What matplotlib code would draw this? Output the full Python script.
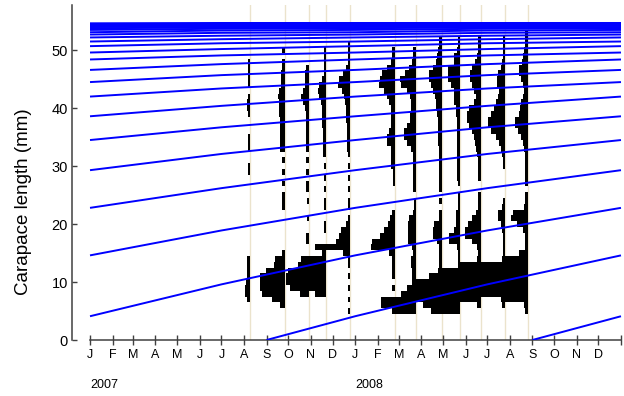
import numpy as np
import pandas as pd
import matplotlib
matplotlib.use('Agg')
import matplotlib.pyplot as plt
import matplotlib.dates as mdates
from matplotlib.transforms import blended_transform_factory

# growth curves: length (mm) in Jan 2007 and Jul 2007
# for each cohort, youngest first (cohorts are one year apart)
jan_len = [4.1, 14.6, 22.8, 29.3, 34.5, 38.6, 42.0, 44.5, 46.6, 48.4, 49.6,
           50.7, 51.5, 52.2, 52.7, 53.1, 53.5, 53.8, 54.0, 54.2, 54.3, 54.4,
           54.5, 54.6, 54.6, 54.7, 54.7]
jul_len = [9.6, 18.9, 26.2, 32.1, 36.7, 40.4, 43.4, 45.7, 47.6, 49.1, 50.2,
           51.2, 51.9, 52.5, 53.0, 53.4, 53.7, 53.9, 54.1, 54.2, 54.4, 54.5,
           54.5, 54.6, 54.7, 54.7, 54.7]
birth_month = -4  # youngest cohort starts at 0 mm around Sep 2006

# length-frequency samples (1 mm classes): {class mid (mm): frequency}
sample_dates = ['2007-08-09', '2007-09-26', '2007-10-29', '2007-11-22',
                '2007-12-25', '2008-02-25', '2008-03-25', '2008-04-29',
                '2008-05-25', '2008-06-22', '2008-07-26', '2008-08-26']

aug07 = {7: 2.5, 8: 4, 9: 4.5, 10: 3.5, 11: 2, 12: 2, 13: 2, 14: 2, 29: 1,
         30: 1, 33: 1, 34: 1, 35: 1, 39: 1.5, 40: 2, 41: 2, 42: 1.5, 44: 1,
         45: 1, 46: 1, 47: 1, 48: 1}
sep07 = {6: 4, 7: 12, 8: 22, 9: 24, 10: 24, 11: 24, 12: 18, 13: 10, 14: 9,
         15: 2, 23: 1.5, 24: 1.5, 25: 1.5, 27: 1.5, 29: 1.5, 31: 1.5, 33: 3.5,
         34: 4, 35: 4, 36: 4, 37: 4, 38: 4, 39: 5, 40: 5, 41: 5, 42: 6, 43: 5,
         44: 2.5, 45: 2.5, 46: 2.5, 47: 2, 48: 2, 50: 1.5}
oct07 = {8: 8, 9: 18, 10: 22, 11: 22, 12: 20, 13: 10, 14: 7, 17: 1.5,
         18: 1.5, 21: 1, 24: 1, 26: 1.5, 27: 1.5, 29: 1.5, 31: 1.5, 33: 1.5,
         34: 1.5, 35: 1.5, 36: 1.5, 37: 1.5, 38: 1.5, 39: 2, 40: 2.5, 41: 5,
         42: 7, 43: 5, 44: 3, 45: 3, 46: 2.5, 47: 2}
nov07 = {8: 10, 9: 17, 10: 27, 11: 27, 12: 27, 13: 17, 14: 17, 15: 3,
         16: 10, 19: 1, 20: 1, 23: 1.5, 24: 1, 26: 1.5, 28: 1.5, 30: 1.5,
         32: 2, 33: 2.5, 34: 2.5, 35: 2.5, 36: 2.5, 37: 3, 38: 3, 39: 3,
         40: 3.5, 41: 4, 42: 6, 43: 7, 44: 6, 45: 3, 46: 1.5, 47: 1.5,
         48: 1.5, 49: 1.5, 50: 1.5}
dec07 = {5: 1, 7: 1, 9: 1, 11: 1, 13: 1, 14: 1.5, 15: 6, 16: 24, 17: 13,
         18: 10, 19: 8, 20: 3, 21: 1.5, 23: 1.5, 24: 1.5, 26: 1.5, 28: 1.5,
         30: 1.5, 32: 1.5, 33: 2.5, 34: 2.5, 35: 2.5, 36: 2.5, 37: 2.5,
         38: 3, 39: 3, 40: 3, 41: 4, 42: 5, 43: 7, 44: 11, 45: 10, 46: 6,
         47: 3, 48: 1.5, 49: 1.5, 50: 1.5, 51: 1.5}
feb08 = {6: 13, 7: 13, 9: 2, 11: 2, 12: 2, 13: 2, 14: 2, 15: 5, 16: 23,
         17: 22, 18: 14, 19: 10, 20: 6, 21: 4, 22: 2, 27: 1.5, 28: 1.5,
         29: 1.5, 30: 3, 31: 3, 32: 3, 33: 3, 34: 7, 35: 7, 36: 5, 37: 3,
         38: 3, 39: 3, 40: 3, 41: 5, 42: 7, 43: 10, 44: 15, 45: 14, 46: 12,
         47: 7, 48: 3, 49: 2, 50: 2}
mar08 = {5: 23, 6: 23, 7: 22, 8: 14, 9: 8, 10: 3, 11: 3, 12: 3, 13: 4,
         14: 4, 15: 2, 16: 3, 17: 7, 18: 7, 19: 7, 20: 7, 21: 6, 22: 2,
         23: 1.5, 24: 1.5, 26: 2, 27: 2, 28: 2, 29: 2, 30: 2, 31: 2.5,
         32: 2.5, 33: 4, 34: 8, 35: 11, 36: 11, 37: 8, 38: 5, 39: 5, 40: 4,
         41: 4, 42: 5, 43: 8, 44: 14, 45: 15, 46: 10, 47: 6, 48: 3, 49: 2,
         50: 2}
apr08 = {5: 10, 6: 18, 7: 26, 8: 28, 9: 28, 10: 26, 11: 12, 12: 3, 13: 2,
         14: 2, 15: 2, 16: 2, 17: 4, 18: 8, 19: 8, 20: 7, 21: 2, 22: 2,
         24: 2, 26: 2, 27: 2, 28: 2, 29: 2, 30: 2, 31: 2, 32: 2, 33: 2,
         34: 3, 35: 3, 36: 3, 37: 3, 38: 3, 39: 4, 40: 5, 41: 5, 42: 6,
         43: 8, 44: 10, 45: 12, 46: 12, 47: 8, 48: 5, 49: 4, 50: 2.5, 51: 2,
         52: 2}
may08 = {5: 20, 6: 24, 7: 28, 8: 30, 9: 30, 10: 30, 11: 28, 12: 22, 13: 2,
         14: 2, 15: 2, 16: 3, 17: 11, 18: 11, 19: 6, 20: 4, 21: 4, 22: 4,
         23: 2, 24: 2, 25: 2, 27: 2, 28: 2.5, 29: 2.5, 30: 2.5, 31: 2.5,
         32: 2.5, 33: 2.5, 34: 2.5, 35: 2.5, 36: 2.5, 37: 2.5, 38: 2.5,
         39: 4, 40: 4, 41: 6, 42: 6, 43: 6, 44: 9, 45: 12, 46: 12, 47: 12,
         48: 6, 49: 6, 50: 3, 51: 2, 52: 2}
jun08 = {6: 3, 7: 22, 8: 26, 9: 26, 10: 26, 11: 26, 12: 24, 13: 22, 14: 3,
         15: 2, 16: 3, 17: 8, 18: 15, 19: 15, 20: 12, 21: 8, 22: 4, 23: 2,
         24: 2, 25: 2, 28: 2, 29: 2, 30: 2, 31: 2, 32: 3, 33: 4, 34: 5,
         35: 6, 36: 8, 37: 11, 38: 13, 39: 13, 40: 11, 41: 6, 42: 4, 43: 6,
         44: 8, 45: 10, 46: 10, 47: 8, 48: 5, 49: 3, 50: 2, 51: 2, 52: 2}
jul08 = {6: 3, 7: 4, 8: 26, 9: 28, 10: 28, 11: 28, 12: 28, 13: 26, 14: 3,
         15: 2, 16: 2, 17: 2, 18: 2, 19: 3, 20: 4, 21: 7, 22: 7, 23: 3,
         24: 2, 30: 2, 31: 2, 32: 3, 33: 4, 34: 6, 35: 9, 36: 14, 37: 17,
         38: 17, 39: 14, 40: 11, 41: 9, 42: 7, 43: 6, 44: 8, 45: 8, 46: 7,
         47: 4, 48: 3, 49: 2, 50: 2, 51: 2, 52: 2}
aug08 = {5: 2, 6: 3, 7: 22, 8: 22, 9: 24, 10: 24, 11: 24, 12: 24, 13: 24,
         14: 22, 15: 8, 16: 2, 17: 2, 18: 2, 19: 4, 20: 10, 21: 16, 22: 14,
         23: 3, 24: 2, 25: 2, 27: 2, 28: 2, 29: 2, 30: 2, 31: 2, 32: 2,
         33: 3, 34: 4, 35: 6, 36: 9, 37: 12, 38: 12, 39: 8, 40: 7, 41: 6,
         42: 4, 43: 3, 44: 4, 45: 6, 46: 8, 47: 8, 48: 5, 49: 4, 50: 3,
         51: 2, 52: 2, 53: 2}
samples = [aug07, sep07, oct07, nov07, dec07, feb08, mar08, apr08, may08,
           jun08, jul08, aug08]

month_letters = list('JFMAMJJASOND') * 2

narrow = ['Liberation Sans Narrow', 'Liberation Sans', 'DejaVu Sans']
axis_col = '#404040'
days_per_count = 1.376   # bar length per unit of frequency
min_bar = 1.0            # days added so single counts stay visible

fig = plt.figure(figsize=(6.24, 3.96), dpi=100)
ax = fig.add_axes([72 / 624, 56 / 396, 550 / 624, 335 / 396])

t_start = mdates.date2num(pd.Timestamp('2007-01-01'))
t_end = mdates.date2num(pd.Timestamp('2009-01-01'))

# sample lines
for d in sample_dates:
    ax.axvline(mdates.date2num(pd.Timestamp(d)), color='#ebe3cc', lw=1.0,
               zorder=1)

# histograms, drawn to the left of each sample date
for d, freq in zip(sample_dates, samples):
    t = mdates.date2num(pd.Timestamp(d))
    mids = np.array(list(freq.keys()), dtype=float)
    w = np.array(list(freq.values())) * days_per_count + min_bar
    ax.barh(mids, w, left=t - w, height=1.0, color='black', lw=0,
            antialiased=False, zorder=2)

# growth curves
track_age = [0]
track_len = [0.0]
for j, (a, b) in enumerate(zip(jan_len, jul_len)):
    track_age += [4 + 12 * j, 10 + 12 * j]
    track_len += [a, b]
track_age = np.array(track_age)
track_len = np.array(track_len)

for c in range(-2, len(jan_len) - 2):
    m = track_age + birth_month - 12 * c
    keep = (m >= 0) & (m <= 24)
    if keep.sum() < 2:
        continue
    xs = [mdates.date2num(pd.Timestamp('2007-01-01') + pd.DateOffset(months=int(v)))
          for v in m[keep]]
    ax.plot(xs, track_len[keep], color='#0000ff', lw=1.4, zorder=3,
            solid_capstyle='butt')

# axes
ax.set_xlim(t_start - 24.8, t_end + 1.4)
ax.set_ylim(0, 57.8)
for s in ['top', 'right']:
    ax.spines[s].set_visible(False)
for s in ['left', 'bottom']:
    ax.spines[s].set_color(axis_col)
    ax.spines[s].set_linewidth(1.1)
ax.spines['bottom'].set_bounds(t_start, t_end)

month_ticks = [mdates.date2num(pd.Timestamp('2007-01-01') + pd.DateOffset(months=i))
               for i in range(25)]
ax.set_xticks(month_ticks)
ax.set_xticklabels(month_letters + [''], family=narrow, fontsize=9)
ax.set_yticks(range(0, 60, 10))
ax.set_yticklabels([str(v) for v in range(0, 60, 10)], family=narrow,
                   fontsize=10.5)
ax.tick_params(axis='x', direction='inout', length=6.5, width=1,
               color=axis_col, pad=3.5)
ax.tick_params(axis='y', direction='in', length=3.6, width=1,
               color=axis_col, pad=3)

tr = blended_transform_factory(ax.transData, ax.transAxes)
ax.text(t_start, -0.135, '2007', transform=tr, ha='left', va='center',
        family=narrow, fontsize=9)
ax.text(month_ticks[12], -0.135, '2008', transform=tr, ha='left',
        va='center', family=narrow, fontsize=9)

fig.text(24 / 624, 1 - 202 / 396, 'Carapace length (mm)', rotation=90,
         ha='center', va='center', fontsize=13.5,
         family=['Liberation Sans', 'DejaVu Sans'])

fig.savefig('out.png', dpi=100)
